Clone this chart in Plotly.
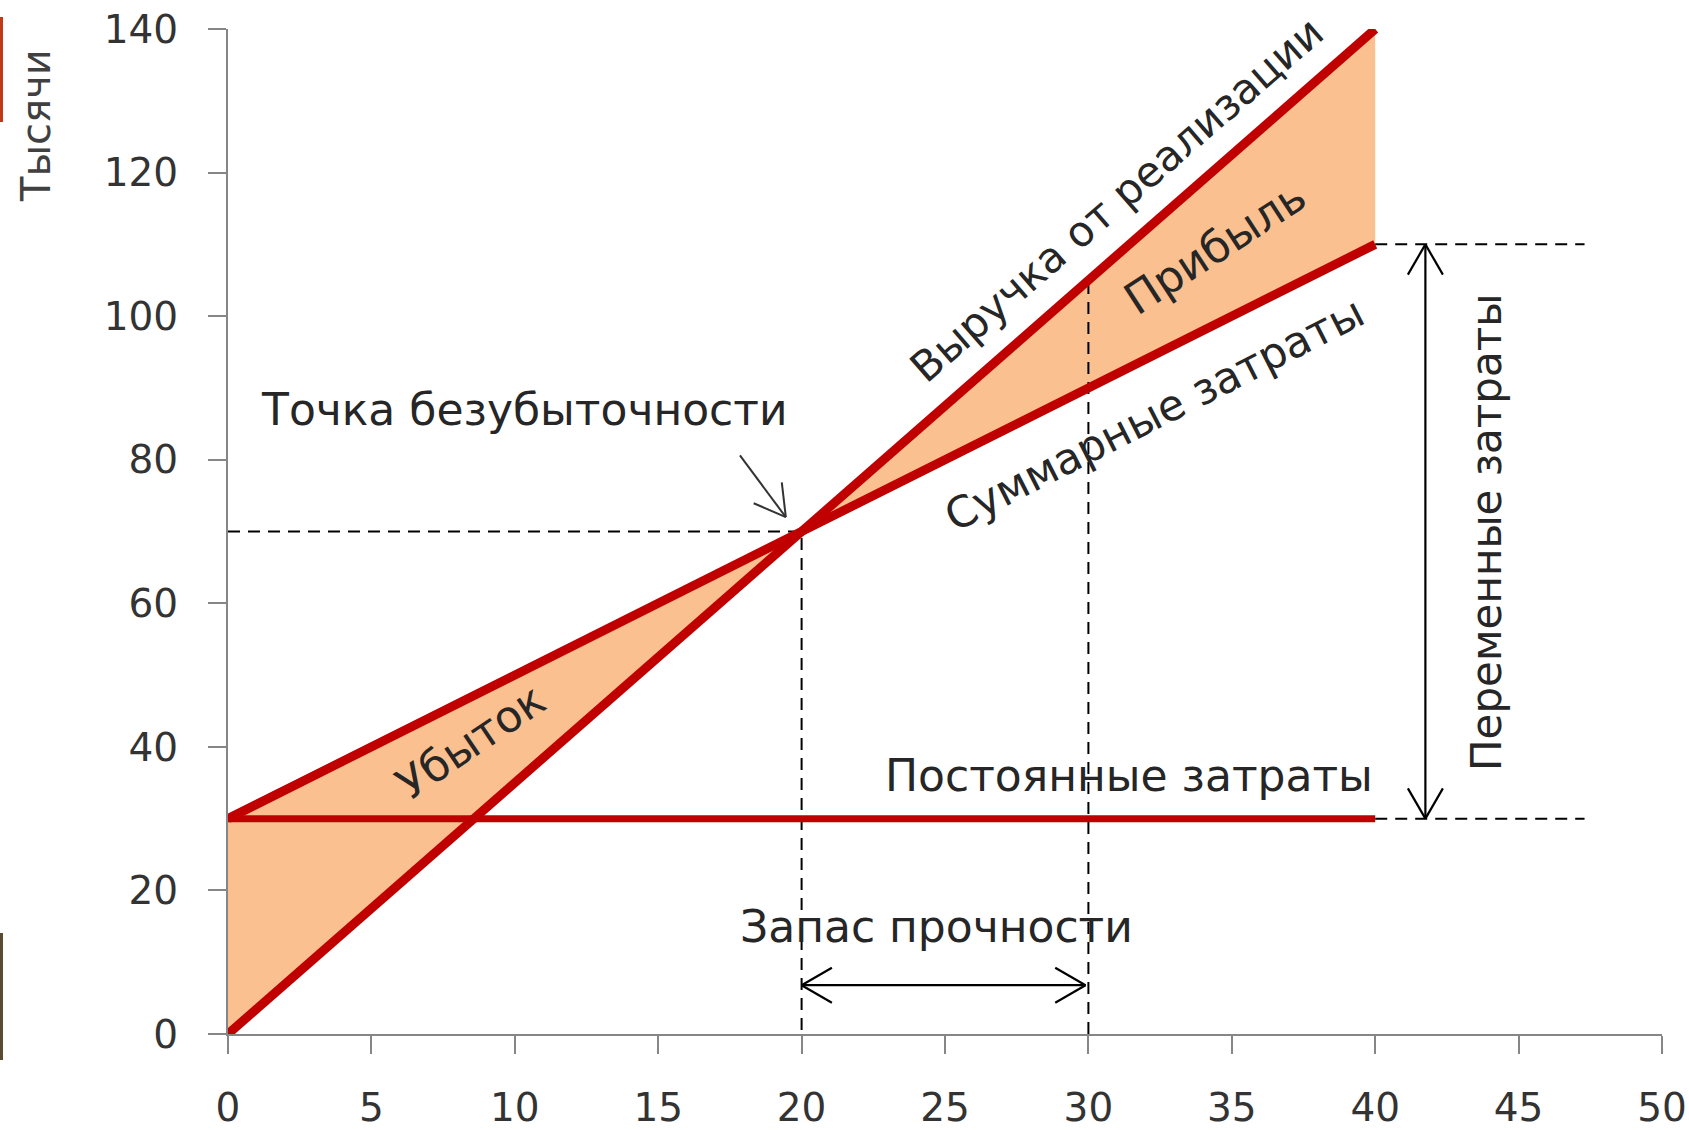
import math
import plotly.graph_objects as go

# ---- data ----
volume = [0, 10, 20, 30, 40]
revenue = [0, 35, 70, 105, 140]
total_costs = [30, 50, 70, 90, 110]
fixed_costs = [30, 30, 30, 30, 30]
break_even = (20, 70)
safety_x = 30
x_ticks = [0, 5, 10, 15, 20, 25, 30, 35, 40, 45, 50]
y_ticks = [0, 20, 40, 60, 80, 100, 120, 140]

W, H = 1689, 1130
ML, MR, MT, MB = 228, 27, 29, 96
XR, YR = (0, 50), (0, 140)
sx = (W - ML - MR) / (XR[1] - XR[0])   # px per x unit
sy = (H - MT - MB) / (YR[1] - YR[0])   # px per y unit

RED = "#C00000"
FILL = "#FAC090"
INK = "#262626"
FONT = "DejaVu Sans"

fig = go.Figure()

# filled area between revenue and total costs
fig.add_trace(go.Scatter(x=volume, y=total_costs, mode="lines",
                         line=dict(width=0), hoverinfo="skip", showlegend=False))
fig.add_trace(go.Scatter(x=volume, y=revenue, mode="lines", fill="tonexty",
                         fillcolor=FILL, line=dict(width=0), hoverinfo="skip",
                         showlegend=False))

dash = "12px,8px"
# dashed guide lines
fig.add_trace(go.Scatter(x=[0, break_even[0], break_even[0]],
                         y=[break_even[1], break_even[1], 0], mode="lines",
                         line=dict(color="black", width=2, dash=dash),
                         showlegend=False, hoverinfo="skip"))
fig.add_trace(go.Scatter(x=[safety_x, safety_x], y=[0, revenue[3]], mode="lines",
                         line=dict(color="black", width=2, dash=dash),
                         showlegend=False, hoverinfo="skip"))
ext = 47.3
fig.add_trace(go.Scatter(x=[volume[-1], ext, None, volume[-1], ext],
                         y=[total_costs[-1], total_costs[-1], None, fixed_costs[-1], fixed_costs[-1]],
                         mode="lines", line=dict(color="black", width=2, dash=dash),
                         showlegend=False, hoverinfo="skip"))

# main lines
fig.add_trace(go.Scatter(x=volume, y=fixed_costs, mode="lines",
                         line=dict(color=RED, width=7), showlegend=False))
fig.add_trace(go.Scatter(x=volume, y=total_costs, mode="lines",
                         line=dict(color=RED, width=9), showlegend=False))
fig.add_trace(go.Scatter(x=volume, y=revenue, mode="lines",
                         line=dict(color=RED, width=9), showlegend=False))


def arrow(x0, y0, x1, y1, heads=(False, True), wing=35, ang=30, width=2.2, color="black"):
    xs, ys = [x0, x1, None], [y0, y1, None]

    def head(tx, ty, fx, fy):
        dxp, dyp = (tx - fx) * sx, (ty - fy) * sy
        th = math.atan2(dyp, dxp)
        for s in (1, -1):
            a = th + math.pi + s * math.radians(ang)
            xs.extend([tx, tx + wing * math.cos(a) / sx, None])
            ys.extend([ty, ty + wing * math.sin(a) / sy, None])
    if heads[1]:
        head(x1, y1, x0, y0)
    if heads[0]:
        head(x0, y0, x1, y1)
    fig.add_trace(go.Scatter(x=xs, y=ys, mode="lines",
                             line=dict(color=color, width=width),
                             showlegend=False, hoverinfo="skip"))


arrow(17.85, 80.6, 19.45, 72.0, color="#333333", width=2)
arrow(20.0, 6.8, 29.9, 6.8, heads=(True, True))
arrow(41.75, 30, 41.75, 110, heads=(True, True))

ann = dict(showarrow=False, font=dict(family=FONT, size=44, color=INK),
           xanchor="center", yanchor="middle")
labels = [
    ("Выручка от реализации", 31.0, 116.2, -41, 42),
    ("Прибыль", 34.4, 109.6, -33, 44),
    ("Суммарные затраты", 32.3, 86.3, -27, 43),
    ("Убыток", 8.46, 40.7, -34, 44),
    ("Точка безубыточности", 10.33, 87.0, 0, 44),
    ("Постоянные затраты", 31.4, 36.0, 0, 44),
    ("Запас прочности", 24.7, 15.0, 0, 44),
    ("Переменные затраты", 43.9, 69.8, -90, 42),
]
for t, x, y, a, fs in labels:
    fig.add_annotation(text=t, x=x, y=y, textangle=a, showarrow=False,
                       font=dict(family=FONT, size=fs, color=INK),
                       xanchor="center", yanchor="middle")

fig.add_annotation(text="Тысячи", xref="paper", yref="paper",
                   x=(36 - ML) / (W - ML - MR), y=(H - MB - 126) / (H - MT - MB),
                   xanchor="center", yanchor="middle",
                   textangle=-90, showarrow=False,
                   font=dict(family=FONT, size=40, color="#404040"))

# slide edge artefacts
fig.add_shape(type="rect", xref="paper", yref="paper",
              x0=(0 - ML) / (W - ML - MR), x1=(3 - ML) / (W - ML - MR),
              y0=(H - MB - 122) / (H - MT - MB), y1=(H - MB - 17) / (H - MT - MB),
              fillcolor="#C0391B", line=dict(width=0))
fig.add_shape(type="rect", xref="paper", yref="paper",
              x0=(0 - ML) / (W - ML - MR), x1=(3 - ML) / (W - ML - MR),
              y0=(H - MB - 1060) / (H - MT - MB), y1=(H - MB - 933) / (H - MT - MB),
              fillcolor="#5A4A30", line=dict(width=0))

axis_common = dict(showgrid=False, zeroline=False, showline=True,
                   linecolor="#868686", linewidth=2, ticks="outside",
                   ticklen=18, tickwidth=2, tickcolor="#868686", automargin=False,
                   tickfont=dict(family=FONT, size=39, color="#333333"))
fig.update_xaxes(range=list(XR), tickvals=x_ticks, ticklabelstandoff=20, **axis_common)
fig.update_yaxes(range=list(YR), tickvals=y_ticks, ticklabelstandoff=22, **axis_common)

fig.update_layout(width=W, height=H, margin=dict(l=ML, r=MR, t=MT, b=MB),
                  plot_bgcolor="white", paper_bgcolor="white", showlegend=False)

fig.write_html("out.html")
